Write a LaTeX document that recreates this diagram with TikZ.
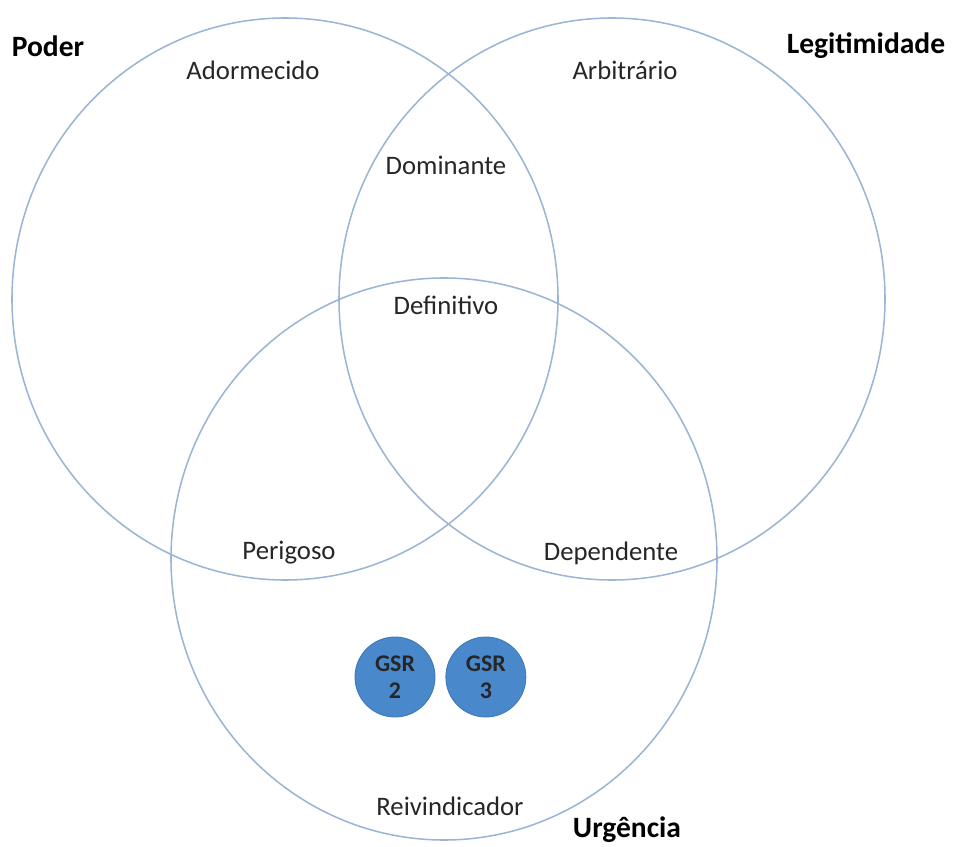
\documentclass[tikz,border=0pt]{standalone}
\usepackage{fontspec}
\setmainfont{Carlito}
\usepackage{xcolor}
\usepackage{tikz}
\usetikzlibrary{positioning}
\definecolor{venngray1}{HTML}{262626}
\definecolor{vennline}{HTML}{9BB5D4}
\definecolor{vennfill}{HTML}{4A88CC}
\definecolor{vennedge}{HTML}{3F78B5}

\begin{document}
\begin{tikzpicture}[x=0.025cm, y=-0.025cm, font=\fontsize{19}{22}\selectfont]

% Canvas
\useasboundingbox (0,0) rectangle (955,847);

% Styles
\tikzset{
  venn circle/.style={draw=vennline, line width=1.1pt},
  lbl/.style={align=center, text=venngray1, inner sep=1pt},
  ttl/.style={align=center, text=black, inner sep=1pt, font=\fontsize{21}{24}\selectfont\bfseries},
  gsr/.style={circle, fill=vennfill, draw=vennedge, line width=0.6pt, minimum size=2cm, inner sep=0pt,
              align=center, font=\fontsize{17}{19}\selectfont\bfseries, text=venngray1}
}

% Three sets
\draw[venn circle] (285,299) ellipse [x radius=273, y radius=281];
\draw[venn circle] (612,299) ellipse [x radius=273, y radius=281];
\draw[venn circle] (444,559) ellipse [x radius=273, y radius=281];

% Set names
\node[ttl] (poder) at (48,46) {Poder};
\node[ttl] (legit) at (866,46) {Legitimidade};
\node[ttl] (urgencia) at (627,830) {Urgência};

% Regions
\node[lbl] (adormecido) at (253,70) {Adormecido};
\node[lbl] (arbitrario) at (625,70) {Arbitrário};
\node[lbl] (dominante) at (446,165) {Dominante};
\node[lbl] (definitivo) at (446,305) {Definitivo};
\node[lbl] (perigoso) at (289,553) {Perigoso};
\node[lbl] (dependente) at (611,553) {Dependente};
\node[lbl] (reivindicador) at (450,806) {Reivindicador};

% GSR
\node[gsr] (gsr2) at (395,677) {GSR\\2};
\node[gsr, right=0.25cm of gsr2] (gsr3) {GSR\\3};

\end{tikzpicture}
\end{document}
